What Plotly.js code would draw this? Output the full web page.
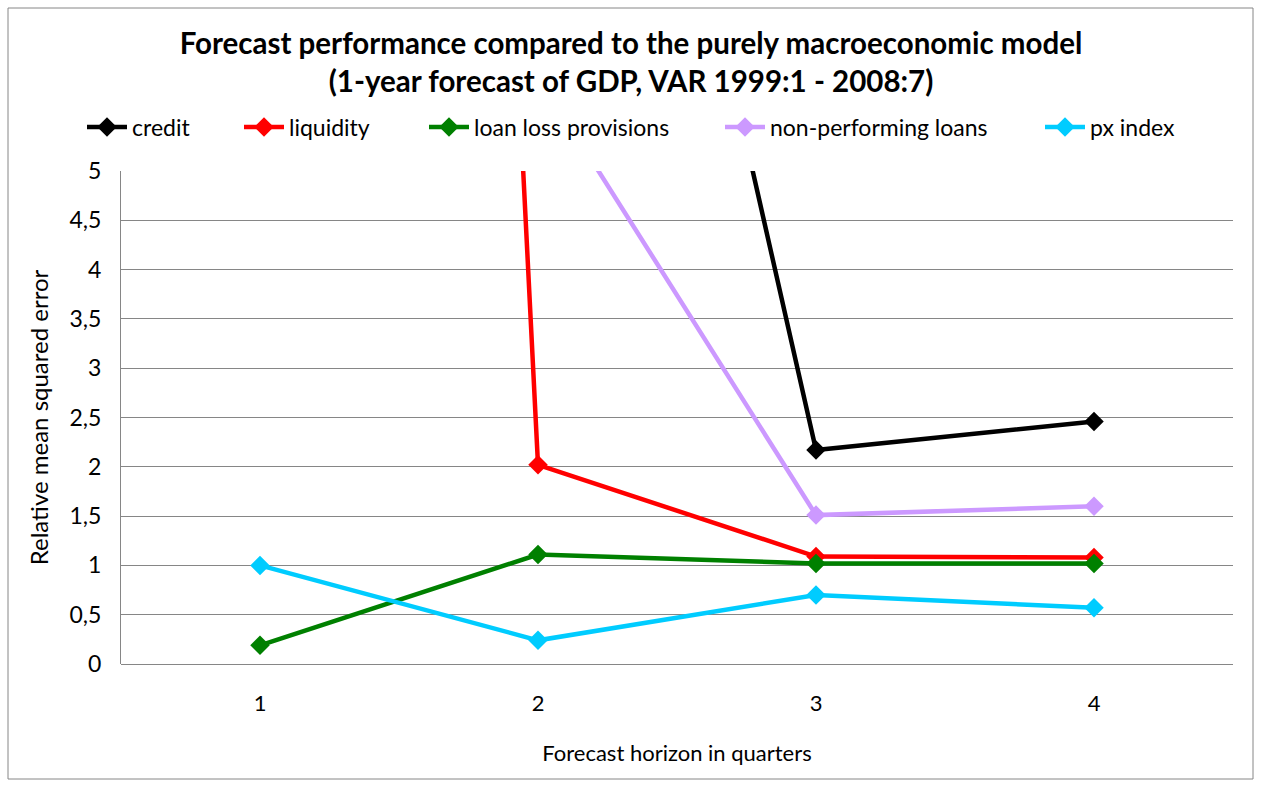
<!DOCTYPE html>
<html>
<head>
<meta charset="utf-8">
<script src="https://cdn.plot.ly/plotly-3.0.1.min.js"></script>
<style>
  html, body { margin: 0; padding: 0; background: #fff; }
  #chart { width: 1262px; height: 788px; }
</style>
</head>
<body>
<div id="chart"></div>
<script>
// forecast horizons (quarters)
var horizons = [1, 2, 3, 4];

// relative MSE; values above 5 run off the top of the plot
// null = not visible in the original (above the range, can't be read)
var credit = [null, 14.6, 2.17, 2.46];
var liquidity = [58, 2.02, 1.09, 1.08];
var loanLoss = [0.19, 1.11, 1.02, 1.02];
var nonPerforming = [null, 5.97, 1.51, 1.60];
var pxIndex = [1.0, 0.24, 0.70, 0.57];

var names = ['credit', 'liquidity', 'loan loss provisions', 'non-performing loans', 'px index'];
var colors = ['#000000', '#ff0000', '#008000', '#cc99ff', '#00ccff'];
var series = [credit, liquidity, loanLoss, nonPerforming, pxIndex];

// left edge (px) of each legend entry, Excel spaces them wider than plotly does
var legendLeft = [88, 245, 430, 726, 1046];

var W = 1262, H = 788;
var mL = 121, mR = 29, mT = 171, mB = 124;
var pw = W - mL - mR, ph = H - mT - mB;
// pixel -> paper units, for the outer border
function px2x(p) { return (p - mL) / pw; }
function py2y(p) { return (H - mB - p) / ph; }

var data = series.map(function (vals, i) {
    return {
        type: 'scatter',
        mode: 'lines+markers',
        x: horizons,
        y: vals,
        name: names[i],
        legend: i === 0 ? 'legend' : 'legend' + (i + 1),
        line: {color: colors[i], width: 4.5},
        marker: {symbol: 'diamond', size: 15, color: colors[i]},
        connectgaps: false,
        cliponaxis: true
    };
});

var layout = {
    width: W,
    height: H,
    margin: {l: mL, r: mR, t: mT, b: mB},
    paper_bgcolor: '#ffffff',
    plot_bgcolor: '#ffffff',
    separators: ', ',
    font: {family: 'Lato, "Open Sans", sans-serif', size: 22, color: '#000'},
    title: {
        text: '<b>Forecast performance compared to the purely macroeconomic model<br>(1-year forecast of GDP, VAR 1999:1 - 2008:7)</b>',
        font: {family: 'Lato, sans-serif', size: 29.5, color: '#000'},
        x: 0.5, xanchor: 'center',
        y: 1 - 54 / H, yanchor: 'middle'
    },
    showlegend: true,
    xaxis: {
        range: [0.5, 4.5],
        tickvals: horizons,
        ticktext: horizons.map(String),
        showgrid: false,
        zeroline: false,
        showline: false,
        ticks: '',
        ticklabelstandoff: 24,
        tickfont: {size: 22},
        title: {text: 'Forecast horizon in quarters', font: {size: 22}, standoff: 30},
        fixedrange: true
    },
    yaxis: {
        range: [0, 5],
        dtick: 0.5,
        tick0: 0,
        showgrid: true,
        gridcolor: '#868686',
        gridwidth: 1,
        zeroline: true,
        zerolinecolor: '#868686',
        zerolinewidth: 1,
        showline: true,
        linecolor: '#868686',
        linewidth: 1,
        ticks: '',
        ticklabelstandoff: 14,
        tickfont: {size: 23},
        title: {text: 'Relative mean squared error', font: {size: 24}, standoff: 14},
        fixedrange: true
    },
    shapes: [{
        type: 'rect',
        xref: 'paper', yref: 'paper',
        x0: px2x(8), x1: px2x(1253),
        y0: py2y(779), y1: py2y(8),
        line: {color: '#868686', width: 1},
        fillcolor: 'rgba(0,0,0,0)',
        layer: 'below'
    }]
};

// one single-entry legend per series, placed where the reference has it
legendLeft.forEach(function (left, i) {
    var key = i === 0 ? 'legend' : 'legend' + (i + 1);
    layout[key] = {
        orientation: 'h',
        xref: 'container', yref: 'container',
        x: (left - 6) / W, xanchor: 'left',
        y: 1 - 127 / H, yanchor: 'middle',
        font: {size: 23},
        itemwidth: 40,
        bgcolor: 'rgba(0,0,0,0)'
    };
});

Plotly.newPlot('chart', data, layout, {displayModeBar: false, staticPlot: true});
</script>
</body>
</html>
